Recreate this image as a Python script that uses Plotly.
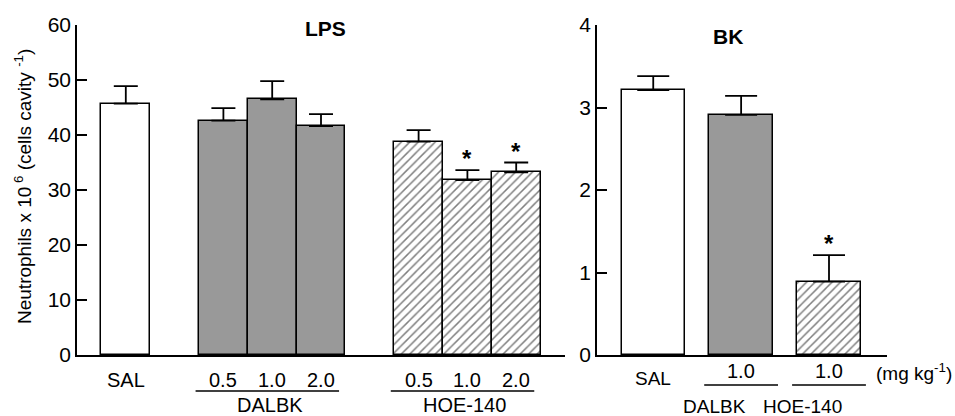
import plotly.graph_objects as go

# ---------------- data ----------------
lps_groups = ["SAL", "DALBK", "HOE-140"]
lps_doses = [["SAL"], ["0.5", "1.0", "2.0"], ["0.5", "1.0", "2.0"]]
lps_mean = [[45.7], [42.6, 46.5, 41.6], [38.8, 31.8, 33.2]]
lps_sem = [[3.2], [2.3, 3.3, 2.2], [2.1, 1.8, 1.8]]
lps_sig = [[False], [False, False, False], [False, True, True]]

bk_groups = ["SAL", "DALBK", "HOE-140"]
bk_doses = [["SAL"], ["1.0"], ["1.0"]]
bk_mean = [[3.21], [2.91], [0.89]]
bk_sem = [[0.17], [0.23], [0.32]]
bk_sig = [[False], [False], [True]]

y_title = "Neutrophils x 10<sup> 6</sup> (cells cavity <sup>-1</sup>)"
unit_label = "(mg kg<sup>-1</sup>)"

FONT = "Liberation Sans, Arial, Helvetica, sans-serif"
GRAY = "#999999"
LBL = 20

styles = [
    dict(color="white", pattern=None),
    dict(color=GRAY, pattern=None),
    dict(color="white", pattern=dict(shape="/", fgcolor="#000000", bgcolor="white", size=6, solidity=0.25)),
]

fig = go.Figure()

def positions(groups_doses, gap):
    pos = []
    cur = 0.0
    for doses in groups_doses:
        p = []
        for _ in doses:
            p.append(cur)
            cur += 1
        cur += gap
        pos.append(p)
    return pos

lps_pos = positions(lps_doses, 1)
bk_pos = positions(bk_doses, 0)

annotations = []
shapes = []

def add_panel(xref, yref, pos, means, sems, sigs, width, capw, sig_shift):
    for gi in range(len(pos)):
        st = styles[gi]
        marker = dict(color=st["color"], line=dict(color="black", width=1.5))
        if st["pattern"] is not None:
            marker["pattern"] = st["pattern"]
        fig.add_trace(go.Bar(
            x=pos[gi], y=means[gi], width=width, marker=marker,
            xaxis=xref, yaxis=yref, showlegend=False,
            error_y=dict(type="data", symmetric=False, array=sems[gi],
                         arrayminus=[0] * len(sems[gi]), width=capw,
                         thickness=1.8, color="black"),
        ))
        for xi, m, s, sg in zip(pos[gi], means[gi], sems[gi], sigs[gi]):
            if sg:
                annotations.append(dict(
                    x=xi, y=m + s, xref=xref, yref=yref, text="<b>*</b>",
                    showarrow=False, yanchor="bottom", yshift=sig_shift,
                    font=dict(family=FONT, size=24, color="black")))

add_panel("x", "y", lps_pos, lps_mean, lps_sem, lps_sig, 1.0, 12, -4)
add_panel("x2", "y2", bk_pos, bk_mean, bk_sem, bk_sig, 0.72, 16, -4)

# category labels, left panel
for gi, doses in enumerate(lps_doses):
    for xi, d in zip(lps_pos[gi], doses):
        annotations.append(dict(x=xi, y=380, xref="x", yref="paper", text=d,
                                showarrow=False, yanchor="middle",
                                font=dict(family=FONT, size=LBL, color="black")))
    if len(doses) > 1:
        c = sum(lps_pos[gi]) / len(lps_pos[gi]) - 0.1
        shapes.append(dict(type="line", xref="x", yref="paper",
                           x0=c - 1.47, x1=c + 1.47, y0=391, y1=391,
                           line=dict(color="black", width=1.3)))
        annotations.append(dict(x=c + 0.05, y=405, xref="x", yref="paper", text=lps_groups[gi],
                                showarrow=False, yanchor="middle",
                                font=dict(family=FONT, size=LBL, color="black")))

# category labels, right panel
for gi, doses in enumerate(bk_doses):
    xi = bk_pos[gi][0]
    if gi == 0:
        annotations.append(dict(x=xi, y=378, xref="x2", yref="paper", text=doses[0],
                                showarrow=False, yanchor="middle",
                                font=dict(family=FONT, size=LBL - 1, color="black")))
    else:
        annotations.append(dict(x=xi, y=371, xref="x2", yref="paper", text=doses[0],
                                showarrow=False, yanchor="middle",
                                font=dict(family=FONT, size=LBL, color="black")))
        shapes.append(dict(type="line", xref="x2", yref="paper",
                           x0=xi - 0.42, x1=xi + 0.42, y0=385, y1=385,
                           line=dict(color="black", width=1.3)))
        annotations.append(dict(x=xi - 0.3, y=406, xref="x2", yref="paper", text=bk_groups[gi],
                                showarrow=False, yanchor="middle",
                                font=dict(family=FONT, size=LBL - 1, color="black")))

H = 416.0
W = 955.0
def py(p):
    return 1 - p / H

for a in annotations:
    if a["yref"] == "paper":
        a["y"] = py(a["y"])
for s in shapes:
    if s["yref"] == "paper":
        s["y0"] = py(s["y0"]); s["y1"] = py(s["y1"])

annotations.append(dict(x=0.999, y=py(372), xref="paper", yref="paper", text=unit_label,
                        showarrow=False, xanchor="right", yanchor="middle",
                        font=dict(family=FONT, size=LBL - 1, color="black")))
annotations.append(dict(x=303 / W, y=py(29), xref="paper", yref="paper", text="<b>LPS</b>",
                        showarrow=False, yanchor="middle",
                        font=dict(family=FONT, size=21, color="black")))
annotations.append(dict(x=745 / W, y=py(36), xref="paper", yref="paper", text="<b>BK</b>",
                        showarrow=False, yanchor="middle",
                        font=dict(family=FONT, size=21, color="black")))
annotations.append(dict(x=23 / W, y=py(187), xref="paper", yref="paper", text=y_title,
                        showarrow=False, textangle=-90, xanchor="center", yanchor="middle",
                        font=dict(family=FONT, size=19, color="black")))

ydom = [py(355), py(25)]
axis_common = dict(showline=True, linecolor="black", linewidth=1.5, showgrid=False,
                   zeroline=False)
fig.update_layout(
    width=955, height=416,
    margin=dict(l=0, r=0, t=0, b=0, autoexpand=False),
    paper_bgcolor="white", plot_bgcolor="white",
    bargap=0,
    xaxis=dict(domain=[77 / W, 565 / W], range=[-1, 9], showticklabels=False, ticks="",
               anchor="y", **axis_common),
    yaxis=dict(domain=ydom, range=[0, 60], dtick=10, ticks="inside", ticklen=10,
               tickwidth=1.5, tickcolor="black", anchor="x",
               tickfont=dict(family=FONT, size=21, color="black"), **axis_common),
    xaxis2=dict(domain=[597 / W, 887 / W], range=[-0.64, 2.66], showticklabels=False,
                ticks="", anchor="y2", **axis_common),
    yaxis2=dict(domain=ydom, range=[0, 4], dtick=1, ticks="inside", ticklen=10,
                tickwidth=1.5, tickcolor="black", anchor="x2",
                tickfont=dict(family=FONT, size=21, color="black"), **axis_common),
    annotations=annotations,
    shapes=shapes,
)

fig.write_html("out.html", config={"displayModeBar": False},
               post_script="document.body.style.margin='0';document.body.style.overflow='hidden';")
